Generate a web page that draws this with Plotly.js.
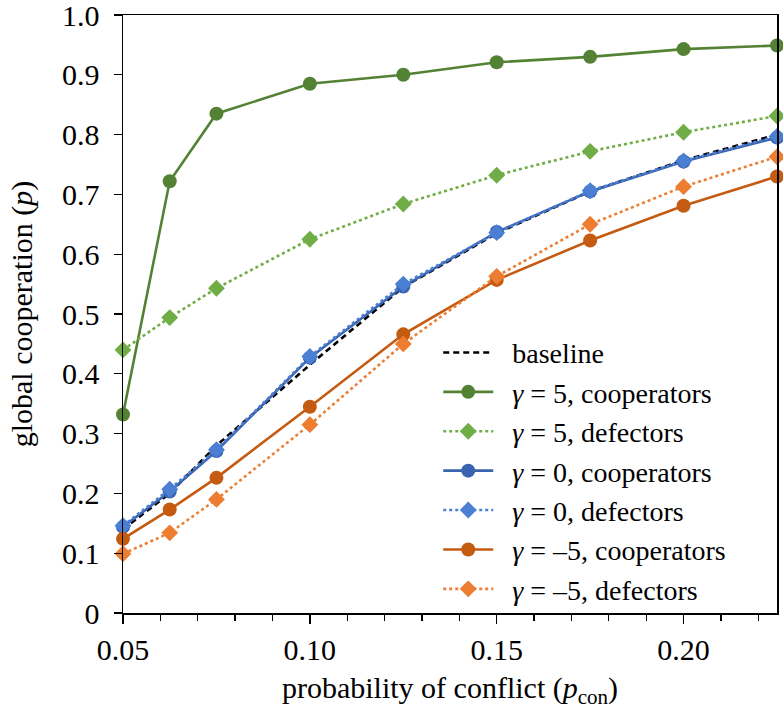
<!DOCTYPE html>
<html>
<head>
<meta charset="utf-8">
<script src="https://cdn.plot.ly/plotly-3.0.1.min.js"></script>
<style>html,body{margin:0;padding:0;background:#fff;}</style>
</head>
<body>
<div id="chart" style="width:783px;height:717px;"></div>
<script>
const pcon = [0.05, 0.0625, 0.075, 0.10, 0.125, 0.15, 0.175, 0.20, 0.225];

const baseline      = [0.140, 0.200, 0.280, 0.415, 0.545, 0.635, 0.705, 0.757, 0.800];
const g5Coop        = [0.332, 0.722, 0.835, 0.885, 0.900, 0.921, 0.930, 0.943, 0.949];
const g5Def         = [0.440, 0.494, 0.543, 0.625, 0.684, 0.732, 0.772, 0.804, 0.831];
const g0Coop        = [0.144, 0.203, 0.271, 0.427, 0.546, 0.637, 0.705, 0.755, 0.795];
const g0Def         = [0.146, 0.207, 0.273, 0.429, 0.550, 0.636, 0.706, 0.756, 0.797];
const gm5Coop       = [0.124, 0.173, 0.226, 0.345, 0.466, 0.557, 0.623, 0.681, 0.730];
const gm5Def        = [0.099, 0.134, 0.190, 0.315, 0.450, 0.563, 0.650, 0.713, 0.763];

const seriesNames = [
  '\u2002baseline',
  '\u2002<i>γ</i> = 5, cooperators',
  '\u2002<i>γ</i> = 5, defectors',
  '\u2002<i>γ</i> = 0, cooperators',
  '\u2002<i>γ</i> = 0, defectors',
  '\u2002<i>γ</i> = –5, cooperators',
  '\u2002<i>γ</i> = –5, defectors'
];

const yTickVals = [0, 0.1, 0.2, 0.3, 0.4, 0.5, 0.6, 0.7, 0.8, 0.9, 1.0];
const yTickText = ['0', '0.1', '0.2', '0.3', '0.4', '0.5', '0.6', '0.7', '0.8', '0.9', '1.0'];
const xTickVals = [0.05, 0.10, 0.15, 0.20];
const xTickText = ['0.05', '0.10', '0.15', '0.20'];

function coop(y, name, color, rank) {
  return {x: pcon, y: y, name: name, type: 'scatter', mode: 'lines+markers',
    line: {color: color, width: 2.6}, marker: {symbol: 'circle', size: 14, color: color},
    cliponaxis: false, legendrank: rank, legendgroup: 'g' + rank};
}
function def(y, name, color, rank) {
  return {x: pcon, y: y, name: name, type: 'scatter', mode: 'lines+markers',
    line: {color: color, width: 2.6, dash: 'dot'}, marker: {symbol: 'diamond', size: 13, color: color},
    cliponaxis: false, legendrank: rank, legendgroup: 'g' + rank};
}

const traces = [
  {x: pcon, y: baseline, name: seriesNames[0], type: 'scatter', mode: 'lines',
   line: {color: '#000000', width: 2.6, dash: '6px,4px'}, cliponaxis: false, legendrank: 1, legendgroup: 'g1'},
  coop(g5Coop, seriesNames[1], '#548235', 2),
  def(g5Def, seriesNames[2], '#70ad47', 3),
  coop(g0Coop, seriesNames[3], '#3a63b0', 4),
  def(g0Def, seriesNames[4], '#4a7fd4', 5),
  coop(gm5Coop, seriesNames[5], '#c55a11', 6),
  def(gm5Def, seriesNames[6], '#ed7d31', 7)
];

const fontFam = 'Liberation Serif';

const layout = {
  width: 783, height: 717,
  margin: {l: 123, r: 6, t: 15, b: 104},
  paper_bgcolor: '#ffffff', plot_bgcolor: '#ffffff',
  font: {family: fontFam, color: '#000000', size: 28},
  showlegend: true,
  legend: {x: 0.482, y: 0.477, xanchor: 'left', yanchor: 'top',
    bgcolor: 'rgba(255,255,255,0)', borderwidth: 0,
    font: {family: fontFam, size: 28, color: '#000000'},
    itemwidth: 50, tracegroupgap: 0, traceorder: 'normal'},
  xaxis: {
    range: [0.05, 0.225], tickmode: 'array', tickvals: xTickVals, ticktext: xTickText,
    ticks: 'outside', ticklen: 9, tickwidth: 1.3, tickcolor: '#000',
    minor: {dtick: 0.01, tick0: 0.05, ticks: 'outside', ticklen: 6, tickwidth: 1.3, tickcolor: '#000', showgrid: false},
    showline: true, linecolor: '#000', linewidth: 1.5, mirror: true,
    showgrid: false, zeroline: false, ticklabeloverflow: 'allow',
    tickfont: {family: fontFam, size: 30, color: '#000'},
    title: {text: 'probability of conflict (<i>p</i><sub>con</sub>)', font: {family: fontFam, size: 30, color: '#000'}, standoff: 12}
  },
  yaxis: {
    range: [0, 1.0], tickmode: 'array', tickvals: yTickVals, ticktext: yTickText,
    ticks: 'outside', ticklen: 8, tickwidth: 1.3, tickcolor: '#000',
    showline: true, linecolor: '#000', linewidth: 1.5, mirror: true,
    showgrid: false, zeroline: false, ticklabelstandoff: 8, ticklabeloverflow: 'allow',
    tickfont: {family: fontFam, size: 30, color: '#000'},
    title: {text: 'global cooperation (<i>p</i>)', font: {family: fontFam, size: 30, color: '#000'}, standoff: 20}
  }
};

Plotly.newPlot('chart', traces, layout, {displayModeBar: false, staticPlot: true});
</script>
</body>
</html>
